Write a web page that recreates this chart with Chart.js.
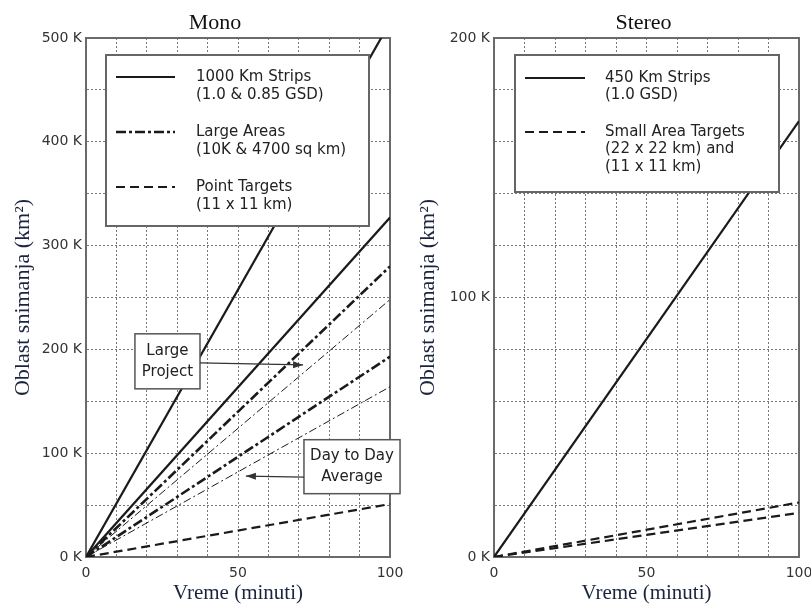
<!DOCTYPE html>
<html><head><meta charset="utf-8">
<script src="https://cdn.jsdelivr.net/npm/chart.js@4"></script>
<style>
html,body{margin:0;padding:0;background:#fff;width:811px;height:604px;overflow:hidden;}
canvas{position:absolute;top:0;}
#mono{left:0;} #stereo{left:405px;}
</style></head><body>
<canvas id="mono" width="405" height="604"></canvas>
<canvas id="stereo" width="406" height="604"></canvas>
<script>
// ---------- data ----------
const minutes = [0, 100];
// Mono
const monoStrips10 = [0, 515000];
const monoStrips085 = [0, 327000];
const monoLarge10K = [0, 280000];
const monoLarge10KAvg = [0, 248000];
const monoLarge4700 = [0, 193000];
const monoLarge4700Avg = [0, 164000];
const monoPoint = [0, 51000];
// Stereo
const stereoStrips = [0, 168000];
const stereoSmall22 = [0, 21000];
const stereoSmall11 = [0, 17000];

// ticks
const xTickValues = [0, 50, 100];
const xTickLabels = ['0', '50', '100'];
const monoYTickValues = [0, 100000, 200000, 300000, 400000, 500000];
const monoYTickLabels = ['0 K', '100 K', '200 K', '300 K', '400 K', '500 K'];
const stereoYTickValues = [0, 100000, 200000];
const stereoYTickLabels = ['0 K', '100 K', '200 K'];

// texts
const monoTitle = 'Mono';
const stereoTitle = 'Stereo';
const xTitle = 'Vreme (minuti)';
const yTitle = 'Oblast snimanja (km²)';
const monoLegendTexts = [
  ['1000 Km Strips', '(1.0 & 0.85 GSD)'],
  ['Large Areas', '(10K & 4700 sq km)'],
  ['Point Targets', '(11 x 11 km)']
];
const stereoLegendTexts = [
  ['450 Km Strips', '(1.0 GSD)'],
  ['Small Area Targets', '(22 x 22 km) and', '(11 x 11 km)']
];
const noteLargeProject = ['Large', 'Project'];
const noteDayToDay = ['Day to Day', 'Average'];

// ---------- helpers ----------
const INK = '#1a1a1a';
function pts(xs, ys) { return xs.map((x, i) => ({x: x, y: ys[i]})); }
const styles = {
  solid: {borderWidth: 2.2, borderDash: []},
  dashDotThick: {borderWidth: 2.6, borderDash: [10, 3, 3, 3]},
  dashDotThin: {borderWidth: 1, borderDash: [8, 3, 2, 3]},
  dashed: {borderWidth: 2.2, borderDash: [9, 5]}
};
function ds(label, ys, style) {
  return Object.assign({label: label, data: pts(minutes, ys), borderColor: INK,
    pointRadius: 0, tension: 0, fill: false}, styles[style]);
}

const decorPlugin = {
  id: 'decor',
  beforeDatasetsDraw(chart, args, o) {
    const {ctx, chartArea: a} = chart;
    ctx.save();
    ctx.strokeStyle = '#6a6a6a'; ctx.lineWidth = 2;
    ctx.strokeRect(a.left, a.top, a.right - a.left, a.bottom - a.top);
    ctx.restore();
  },
  afterDatasetsDraw(chart, args, o) {
    const {ctx, chartArea: a} = chart;
    const xs = chart.scales.x, ys = chart.scales.y;
    ctx.save();
    // title
    ctx.font = '22px "Liberation Serif"';
    ctx.fillStyle = '#111';
    ctx.textAlign = 'center'; ctx.textBaseline = 'alphabetic';
    ctx.fillText(o.title.text, (a.left + a.right) / 2 + o.title.dx, o.title.baseline);
    // legend
    const L = o.legend;
    const bx = a.left + L.dx, by = a.top + L.dy;
    ctx.fillStyle = '#fff'; ctx.fillRect(bx, by, L.w, L.h);
    ctx.strokeStyle = '#666'; ctx.lineWidth = 2; ctx.strokeRect(bx, by, L.w, L.h);
    ctx.font = '15px "DejaVu Sans"'; ctx.fillStyle = '#222';
    ctx.textAlign = 'left'; ctx.textBaseline = 'middle';
    L.entries.forEach((e, k) => {
      const d = chart.data.datasets[e.dataset];
      const y0 = by + L.firstY + k * L.gap;
      ctx.save();
      ctx.strokeStyle = d.borderColor; ctx.lineWidth = d.borderWidth;
      ctx.setLineDash(d.borderDash || []);
      ctx.beginPath(); ctx.moveTo(bx + L.sx0, y0); ctx.lineTo(bx + L.sx1, y0); ctx.stroke();
      ctx.restore();
      e.text.forEach((t, j) => ctx.fillText(t, bx + L.tx, y0 + j * L.lineH));
    });
    // notes
    (o.notes || []).forEach(n => {
      const x0 = xs.getPixelForValue(n.box[0]), x1 = xs.getPixelForValue(n.box[1]);
      const y0 = ys.getPixelForValue(n.box[2]), y1 = ys.getPixelForValue(n.box[3]);
      ctx.fillStyle = '#fff'; ctx.fillRect(x0, y0, x1 - x0, y1 - y0);
      ctx.strokeStyle = '#555'; ctx.lineWidth = 1.5; ctx.strokeRect(x0, y0, x1 - x0, y1 - y0);
      ctx.fillStyle = '#222'; ctx.textAlign = 'center'; ctx.textBaseline = 'middle';
      const cx = (x0 + x1) / 2, cy = (y0 + y1) / 2;
      n.text.forEach((t, j) => ctx.fillText(t, cx, cy + (j - (n.text.length - 1) / 2) * 21));
      // arrow
      const ax0 = xs.getPixelForValue(n.arrow[0]), ay0 = ys.getPixelForValue(n.arrow[1]);
      const ax1 = xs.getPixelForValue(n.arrow[2]), ay1 = ys.getPixelForValue(n.arrow[3]);
      ctx.strokeStyle = '#333'; ctx.lineWidth = 1.2;
      ctx.beginPath(); ctx.moveTo(ax0, ay0); ctx.lineTo(ax1, ay1); ctx.stroke();
      const ang = Math.atan2(ay1 - ay0, ax1 - ax0), len = 10, hw = 3.5;
      ctx.fillStyle = '#333';
      ctx.beginPath();
      ctx.moveTo(ax1, ay1);
      ctx.lineTo(ax1 - len * Math.cos(ang) + hw * Math.sin(ang), ay1 - len * Math.sin(ang) - hw * Math.cos(ang));
      ctx.lineTo(ax1 - len * Math.cos(ang) - hw * Math.sin(ang), ay1 - len * Math.sin(ang) + hw * Math.cos(ang));
      ctx.closePath(); ctx.fill();
    });
    ctx.restore();
  }
};

function makeOptions(cfg) {
  return {
    responsive: false, animation: false, devicePixelRatio: 1,
    layout: {padding: {top: 38, right: cfg.padRight, bottom: 0, left: 0}},
    scales: {
      x: {
        type: 'linear', min: 0, max: 100,
        afterFit(s) { s.height = 47; s.paddingLeft = 0; s.paddingRight = 0; },
        ticks: {stepSize: 10, autoSkip: false, maxRotation: 0, padding: 8, color: '#333',
          font: {family: 'DejaVu Sans', size: 14},
          callback: v => { const i = xTickValues.indexOf(v); return i >= 0 ? xTickLabels[i] : ''; }},
        grid: {color: '#777', lineWidth: 1, drawTicks: false},
        border: {display: true, color: '#6a6a6a', width: 2, dash: [2, 2]},
        title: {display: true, text: xTitle, color: '#1a2440', padding: {top: 0, bottom: 0},
          font: {family: 'Liberation Serif', size: 21, lineHeight: 1}}
      },
      y: {
        type: 'linear', min: 0, max: cfg.yMax,
        afterFit(s) { s.width = cfg.yWidth; },
        ticks: {stepSize: cfg.yStep, autoSkip: false, padding: 4, color: '#333',
          font: {family: 'DejaVu Sans', size: 14},
          callback: v => { const i = cfg.yVals.indexOf(v); return i >= 0 ? cfg.yLabels[i] : ''; }},
        grid: {color: '#777', lineWidth: 1, drawTicks: false},
        border: {display: true, color: '#6a6a6a', width: 2, dash: [2, 2]},
        title: {display: true, text: yTitle, color: '#1a2440', padding: {top: 12, bottom: 0},
          font: {family: 'Liberation Serif', size: 22, lineHeight: 1}}
      }
    },
    plugins: {
      legend: {display: false}, tooltip: {enabled: false}, title: {display: false},
      decor: cfg.decor
    }
  };
}

new Chart(document.getElementById('mono'), {
  type: 'line',
  data: {datasets: [
    ds('1000 Km Strips (1.0 GSD)', monoStrips10, 'solid'),
    ds('1000 Km Strips (0.85 GSD)', monoStrips085, 'solid'),
    ds('Large Areas 10K', monoLarge10K, 'dashDotThick'),
    ds('Large Areas 10K avg', monoLarge10KAvg, 'dashDotThin'),
    ds('Large Areas 4700', monoLarge4700, 'dashDotThick'),
    ds('Large Areas 4700 avg', monoLarge4700Avg, 'dashDotThin'),
    ds('Point Targets', monoPoint, 'dashed')
  ]},
  options: makeOptions({
    padRight: 15, yMax: 500000, yStep: 50000, yWidth: 86,
    yVals: monoYTickValues, yLabels: monoYTickLabels,
    decor: {
      title: {text: monoTitle, dx: -23, baseline: 29},
      legend: {dx: 20, dy: 17, w: 263, h: 171, firstY: 22, gap: 55, lineH: 18, sx0: 10, sx1: 69, tx: 90,
        entries: [{dataset: 0, text: monoLegendTexts[0]}, {dataset: 2, text: monoLegendTexts[1]}, {dataset: 6, text: monoLegendTexts[2]}]},
      notes: [
        {text: noteLargeProject, box: [16.1, 37.5, 215000, 162000], arrow: [37.5, 187000, 71.4, 185000]},
        {text: noteDayToDay, box: [71.7, 103.3, 113000, 61000], arrow: [71.7, 77000, 52.6, 78000]}
      ]
    }
  }),
  plugins: [decorPlugin]
});

new Chart(document.getElementById('stereo'), {
  type: 'line',
  data: {datasets: [
    ds('450 Km Strips (1.0 GSD)', stereoStrips, 'solid'),
    ds('Small Area Targets 22 x 22 km', stereoSmall22, 'dashed'),
    ds('Small Area Targets 11 x 11 km', stereoSmall11, 'dashed')
  ]},
  options: makeOptions({
    padRight: 12, yMax: 200000, yStep: 20000, yWidth: 89,
    yVals: stereoYTickValues, yLabels: stereoYTickLabels,
    decor: {
      title: {text: stereoTitle, dx: -3, baseline: 29},
      legend: {dx: 21, dy: 17, w: 264, h: 137, firstY: 23, gap: 54, lineH: 17.5, sx0: 10, sx1: 70, tx: 90,
        entries: [{dataset: 0, text: stereoLegendTexts[0]}, {dataset: 1, text: stereoLegendTexts[1]}]},
      notes: []
    }
  }),
  plugins: [decorPlugin]
});
</script>
</body></html>
